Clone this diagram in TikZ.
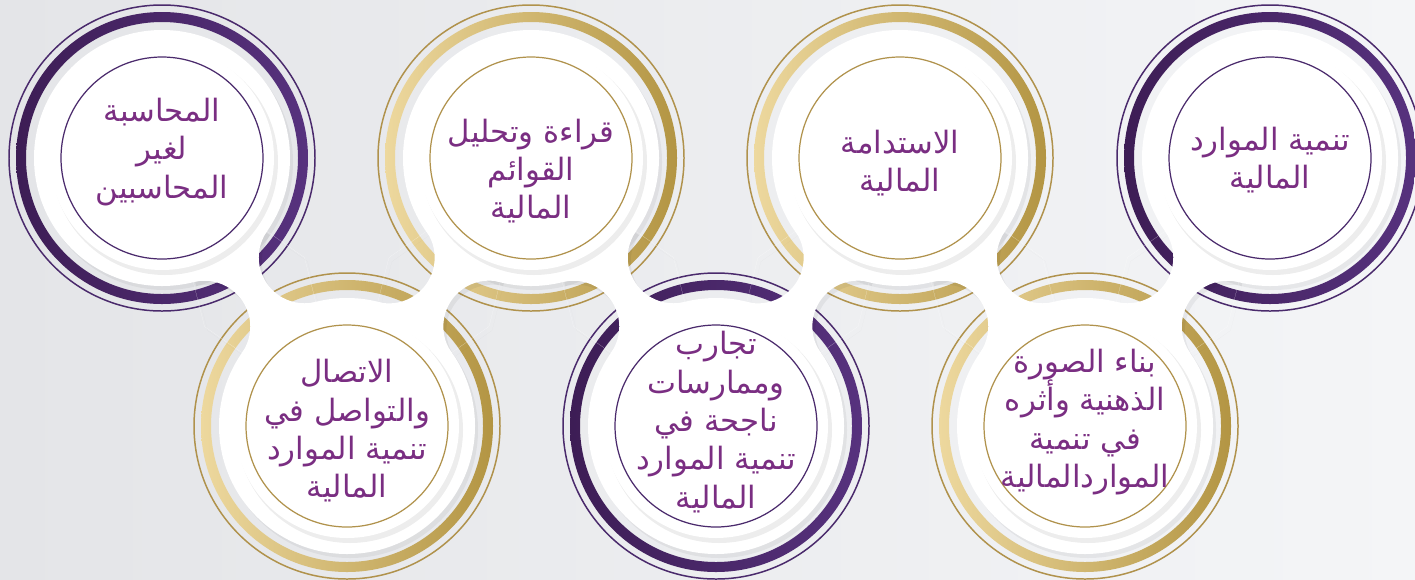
\documentclass[tikz,border=0pt]{standalone}
\usepackage{fontspec}
\newfontfamily\arabicfont[Script=Arabic]{DejaVu Sans}
\TeXXeTstate=1
\usepackage{tikz}
\usetikzlibrary{calc}

\definecolor{bgA}{HTML}{E4E5E8}
\definecolor{bgB}{HTML}{F4F5F7}
\definecolor{purA}{HTML}{3D1D55}
\definecolor{purB}{HTML}{57327E}
\definecolor{purC}{HTML}{4A2A6C}
\definecolor{goldA}{HTML}{EDD89E}
\definecolor{goldB}{HTML}{B39543}
\definecolor{goldC}{HTML}{B0924C}
\definecolor{txtpur}{HTML}{7A2E82}

% white neck between two discs
\newcommand{\bridge}[3][white]{%
  \coordinate (bm) at ($(#2)!0.5!(#3)$);
  \coordinate (bl) at ($(bm)!1.216cm!90:(#3)$);
  \coordinate (br) at ($(bm)!1.216cm!-90:(#3)$);
  \begin{scope}
    \clip (#2) -- (bl) -- (#3) -- (br) -- cycle;
    \fill[#1, even odd rule] (#2) -- (bl) -- (#3) -- (br) -- cycle
      (bl) circle[radius=0.916cm] (br) circle[radius=0.916cm];
  \end{scope}}

\begin{document}
\begin{tikzpicture}[x=0.02cm, y=-0.02cm,
    ring/.style={line width=0.85pt},
    lbl/.style={align=center, text=txtpur,
      font=\arabicfont\fontsize{17.5}{21.8}\selectfont}
  ]
  \useasboundingbox (0,0) rectangle (1415,579);
  \clip (0,0) rectangle (1415,579);
  \shade[left color=bgA, right color=bgB] (0,0) rectangle (1415,579);

  \coordinate (c1) at (162,158);
  \coordinate (c2) at (347,426);
  \coordinate (c3) at (531,158);
  \coordinate (c4) at (716,426);
  \coordinate (c5) at (900,158);
  \coordinate (c6) at (1085,426);
  \coordinate (c7) at (1270,158);

  % rings
  \foreach \nm/\col in {c1/pur, c2/gold, c3/gold, c4/pur, c5/gold, c6/gold, c7/pur}{
    \draw[ring, draw=\col C] (\nm) circle[radius=153];
    \shade[left color=\col A, right color=\col B, even odd rule]
      (\nm) circle[radius=146] (\nm) circle[radius=136];
  }

  % soft shadows
  \begin{scope}[transform canvas={shift={(0.06cm,-0.08cm)}}]
    \foreach \nm in {c1, c2, c3, c4, c5, c6, c7}
      \fill[black, opacity=0.05] (\nm) circle[radius=128];
    \foreach \a/\b in {c1/c2, c2/c3, c3/c4, c4/c5, c5/c6, c6/c7}
      {\bridge[black, opacity=0.05]{\a}{\b}}
  \end{scope}

  \foreach \a/\b in {c1/c2, c2/c3, c3/c4, c4/c5, c5/c6, c6/c7}
    {\bridge{\a}{\b}}

  \foreach \nm/\col in {c1/pur, c2/gold, c3/gold, c4/pur, c5/gold, c6/gold, c7/pur}{
    \fill[white] (\nm) circle[radius=128];
    \fill[black, opacity=0.07] ($(\nm)+(3,4)$) circle[radius=113];
    \fill[white] (\nm) circle[radius=112];
    \draw[\col C, line width=0.7pt] (\nm) circle[radius=101];
  }

  \node[lbl] (t1) at ($(c1)+(0,-6)$) {\beginR المحاسبة\endR\\\beginR لغير\endR\\\beginR المحاسبين\endR};
  \node[lbl] (t2) at ($(c2)+(0,5)$) {\beginR الاتصال\endR\\\beginR والتواصل في\endR\\\beginR تنمية الموارد\endR\\\beginR المالية\endR};
  \node[lbl] (t3) at ($(c3)+(0,13)$) {\beginR قراءة وتحليل\endR\\\beginR القوائم\endR\\\beginR المالية\endR};
  \node[lbl] (t4) at ($(c4)+(0,-4)$) {\beginR تجارب\endR\\\beginR وممارسات\endR\\\beginR ناجحة في\endR\\\beginR تنمية الموارد\endR\\\beginR المالية\endR};
  \node[lbl] (t5) at ($(c5)+(0,5)$) {\beginR الاستدامة\endR\\\beginR المالية\endR};
  \node[lbl] (t6) at ($(c6)+(0,-4)$) {\beginR بناء الصورة\endR\\\beginR الذهنية وأثره\endR\\\beginR في تنمية\endR\\\beginR المواردالمالية\endR};
  \node[lbl] (t7) at ($(c7)+(0,2)$) {\beginR تنمية الموارد\endR\\\beginR المالية\endR};
\end{tikzpicture}
\end{document}
